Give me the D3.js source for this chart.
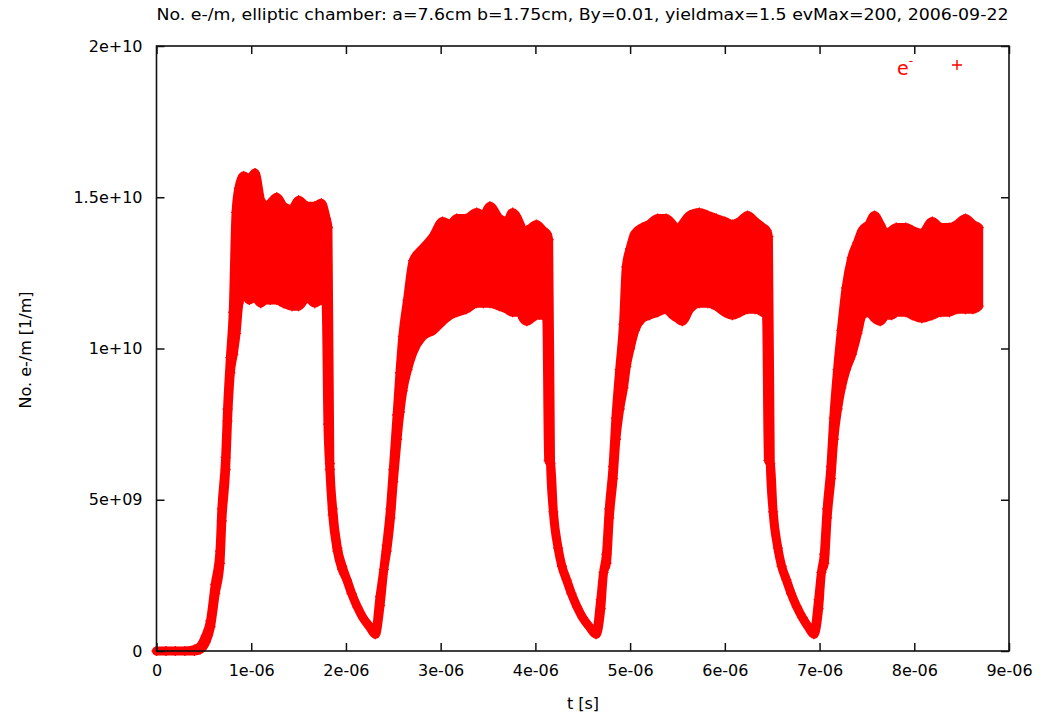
<!DOCTYPE html>
<html lang="en">
<head>
<meta charset="utf-8">
<title>No. e-/m, elliptic chamber</title>
<script src="https://cdn.jsdelivr.net/npm/d3@7"></script>
<style>
  body { margin: 0; background: #fff; }
  #chart text { font-family: "DejaVu Sans", sans-serif; fill: #000; }
  #chart .frame { fill: none; stroke: #111; stroke-width: 1.6; }
  #chart .tick line { stroke: #111; stroke-width: 1.5; }
</style>
</head>
<body>
<div id="chart"></div>
<script>
"use strict";
// time in microseconds, electron line density in units of 1e10 per metre
// upper / lower = envelope of the scattered points
var tMicro = [0, 0.1, 0.2, 0.3, 0.4, 0.46, 0.52, 0.57, 0.62, 0.67, 0.69, 0.73, 0.75, 0.78, 0.81, 0.84, 0.87, 0.92, 0.98, 1.04,
  1.10, 1.15, 1.20, 1.27, 1.34, 1.43, 1.50, 1.59, 1.67, 1.74, 1.79, 1.81,
  1.83, 1.86, 1.91, 1.96, 2.01, 2.06, 2.12, 2.18, 2.25, 2.31,
  2.36, 2.40, 2.43, 2.47, 2.50, 2.54, 2.57, 2.60, 2.65, 2.71, 2.81, 2.92, 3.02, 3.10, 3.17, 3.27, 3.38, 3.45, 3.52,
  3.62, 3.70, 3.76, 3.84, 3.87, 3.91, 3.96, 4.01, 4.08, 4.12, 4.14,
  4.16, 4.19, 4.24, 4.28, 4.33, 4.38, 4.44, 4.50, 4.57, 4.64,
  4.69, 4.72, 4.75, 4.78, 4.82, 4.85, 4.89, 4.93, 4.96, 5.00, 5.05, 5.13, 5.20, 5.29, 5.38, 5.45, 5.50, 5.55, 5.63,
  5.73, 5.82, 5.91, 6.00, 6.08, 6.16, 6.24, 6.32, 6.40, 6.44, 6.46,
  6.48, 6.51, 6.56, 6.60, 6.65, 6.70, 6.76, 6.82, 6.88, 6.94,
  6.99, 7.02, 7.05, 7.08, 7.12, 7.15, 7.19, 7.23, 7.28, 7.34, 7.40, 7.45, 7.52, 7.58, 7.64, 7.70, 7.76, 7.81, 7.91,
  7.98, 8.08, 8.19, 8.28, 8.37, 8.45, 8.54, 8.62, 8.68];

var upper = [0, 0, 0, 0, 0.005, 0.015, 0.05, 0.10, 0.22, 0.33, 0.47, 0.64, 0.80, 0.97, 1.12, 1.45, 1.53, 1.57, 1.56, 1.58,
  1.49, 1.47, 1.48, 1.50, 1.47, 1.46, 1.49, 1.47, 1.47, 1.48, 1.43, 1.40,
  0.62, 0.47, 0.34, 0.28, 0.235, 0.19, 0.146, 0.11, 0.08, 0.055,
  0.18, 0.27, 0.35, 0.47, 0.60, 0.78, 0.92, 1.04, 1.16, 1.29, 1.33, 1.37, 1.42, 1.41, 1.43, 1.43, 1.45, 1.44, 1.47,
  1.43, 1.42, 1.45, 1.41, 1.38, 1.39, 1.40, 1.41, 1.39, 1.38, 1.36,
  0.62, 0.46, 0.34, 0.28, 0.235, 0.19, 0.146, 0.11, 0.08, 0.055,
  0.17, 0.26, 0.32, 0.47, 0.61, 0.77, 0.93, 1.08, 1.27, 1.33, 1.38, 1.40, 1.41, 1.43, 1.43, 1.41, 1.39, 1.41, 1.44,
  1.45, 1.44, 1.43, 1.42, 1.41, 1.42, 1.44, 1.42, 1.40, 1.39, 1.37,
  0.62, 0.46, 0.34, 0.28, 0.235, 0.19, 0.146, 0.11, 0.08, 0.055,
  0.17, 0.26, 0.32, 0.47, 0.61, 0.77, 0.93, 1.06, 1.20, 1.30, 1.35, 1.39, 1.41, 1.44, 1.41, 1.38, 1.39, 1.40, 1.40,
  1.39, 1.38, 1.42, 1.40, 1.40, 1.41, 1.43, 1.41, 1.40];

var lower = [0, 0, 0, 0, 0, 0.005, 0.03, 0.08, 0.19, 0.29, 0.43, 0.60, 0.76, 0.92, 0.98, 1.05, 1.15, 1.19, 1.16, 1.17,
  1.15, 1.16, 1.16, 1.16, 1.15, 1.14, 1.14, 1.17, 1.15, 1.16, 1.15, 0.75,
  0.60, 0.45, 0.33, 0.27, 0.235, 0.19, 0.146, 0.11, 0.08, 0.055,
  0.15, 0.27, 0.33, 0.44, 0.56, 0.70, 0.79, 0.86, 0.93, 0.99, 1.04, 1.06, 1.09, 1.11, 1.12, 1.13, 1.15, 1.15, 1.15,
  1.14, 1.13, 1.12, 1.12, 1.10, 1.09, 1.10, 1.11, 1.11, 1.10, 0.63,
  0.62, 0.46, 0.34, 0.28, 0.235, 0.19, 0.146, 0.11, 0.08, 0.055,
  0.14, 0.26, 0.29, 0.44, 0.57, 0.70, 0.80, 0.87, 0.94, 1.00, 1.06, 1.10, 1.11, 1.12, 1.13, 1.11, 1.10, 1.09, 1.13,
  1.15, 1.15, 1.14, 1.12, 1.11, 1.12, 1.13, 1.13, 1.12, 1.11, 0.63,
  0.62, 0.46, 0.34, 0.28, 0.235, 0.19, 0.146, 0.11, 0.08, 0.055,
  0.14, 0.26, 0.29, 0.44, 0.57, 0.70, 0.80, 0.87, 0.93, 0.98, 1.05, 1.11, 1.12, 1.10, 1.09, 1.11, 1.11, 1.12, 1.12,
  1.11, 1.10, 1.11, 1.12, 1.12, 1.13, 1.13, 1.13, 1.14];

var xTicks = [0, 1e-6, 2e-6, 3e-6, 4e-6, 5e-6, 6e-6, 7e-6, 8e-6, 9e-6];
var xTickLabels = ["0", "1e-06", "2e-06", "3e-06", "4e-06", "5e-06", "6e-06", "7e-06", "8e-06", "9e-06"];
var yTicks = [0, 5e9, 1e10, 1.5e10, 2e10];
var yTickLabels = ["0", "5e+09", "1e+10", "1.5e+10", "2e+10"];

var titulo = "No. e-/m, elliptic chamber: a=7.6cm b=1.75cm, By=0.01, yieldmax=1.5 evMax=200, 2006-09-22";

function desenha() {
  var W = 1043, H = 715;
  var margin = {top: 46, right: 34, bottom: 64, left: 156.5};
  var largura = W - margin.left - margin.right,
      altura = H - margin.top - margin.bottom;

  var svg = d3.select("#chart").append("svg")
      .attr("width", W)
      .attr("height", H);
  var g = svg.append("g")
      .attr("transform", "translate(" + margin.left + "," + margin.top + ")");

  var x = d3.scaleLinear().domain([0, 9e-6]).range([0, largura]);
  var y = d3.scaleLinear().domain([0, 2e10]).range([altura, 0]);

  var dados = tMicro.map(function(t, i) {
    return {t: t * 1e-6, hi: upper[i] * 1e10, lo: lower[i] * 1e10};
  });

  var vermelho = "#ff0000";

  // the dense cloud of points: area between envelopes, thick stroke for the thin parts
  var area = d3.area()
      .curve(d3.curveMonotoneX)
      .x(function(d) { return x(d.t); })
      .y0(function(d) { return y(d.lo); })
      .y1(function(d) { return y(d.hi); });
  g.append("path")
      .datum(dados)
      .attr("d", area)
      .attr("fill", vermelho)
      .attr("stroke", vermelho)
      .attr("stroke-width", 9)
      .attr("stroke-linejoin", "round");

  // "+" markers along both envelopes
  var cruz = "M-5,0H5M0,-5V5";
  var pontos = [];
  dados.forEach(function(d) {
    pontos.push({t: d.t, v: d.hi});
    if (d.lo !== d.hi) pontos.push({t: d.t, v: d.lo});
  });
  g.selectAll("path.mk")
      .data(pontos)
      .enter().append("path")
      .attr("class", "mk")
      .attr("d", cruz)
      .attr("transform", function(d) { return "translate(" + x(d.t) + "," + y(d.v) + ")"; })
      .attr("stroke", vermelho)
      .attr("stroke-width", 1.4)
      .attr("fill", "none");

  // axes: gnuplot style, ticks inward on all four sides
  var fmtX = function(d, i) { return xTickLabels[i]; };
  var fmtY = function(d, i) { return yTickLabels[i]; };

  var eixoX = g.append("g")
      .attr("transform", "translate(0," + altura + ")")
      .call(d3.axisBottom(x).tickValues(xTicks).tickFormat(fmtX).tickSize(-8).tickPadding(14));
  var eixoX2 = g.append("g")
      .call(d3.axisTop(x).tickValues(xTicks).tickFormat("").tickSize(-8));
  var eixoY = g.append("g")
      .call(d3.axisLeft(y).tickValues(yTicks).tickFormat(fmtY).tickSize(-8).tickPadding(14));
  var eixoY2 = g.append("g")
      .attr("transform", "translate(" + largura + ",0)")
      .call(d3.axisRight(y).tickValues(yTicks).tickFormat("").tickSize(-8));

  [eixoX, eixoX2, eixoY, eixoY2].forEach(function(e) {
    e.select(".domain").remove();
    e.selectAll("text").attr("font-size", 16).attr("font-family", null);
  });

  g.append("rect")
      .attr("class", "frame")
      .attr("width", largura)
      .attr("height", altura);

  // titles
  svg.append("text")
      .attr("x", margin.left)
      .attr("y", 20)
      .attr("font-size", 15)
      .attr("textLength", 852)
      .attr("lengthAdjust", "spacingAndGlyphs")
      .text(titulo);

  svg.append("text")
      .attr("x", 583)
      .attr("y", 709)
      .attr("text-anchor", "middle")
      .attr("font-size", 16)
      .text("t [s]");

  svg.append("text")
      .attr("transform", "translate(31,350) rotate(-90)")
      .attr("text-anchor", "middle")
      .attr("font-size", 16)
      .text("No. e-/m [1/m]");

  // key
  var chave = svg.append("text")
      .attr("x", 897)
      .attr("y", 75)
      .attr("font-size", 19)
      .style("fill", vermelho);
  chave.append("tspan").text("e");
  chave.append("tspan").attr("dy", -10).attr("font-size", 12).text("-");
  svg.append("path")
      .attr("d", cruz)
      .attr("transform", "translate(957,65)")
      .attr("stroke", vermelho)
      .attr("stroke-width", 1.4)
      .attr("fill", "none");
}

desenha();
</script>
</body>
</html>
